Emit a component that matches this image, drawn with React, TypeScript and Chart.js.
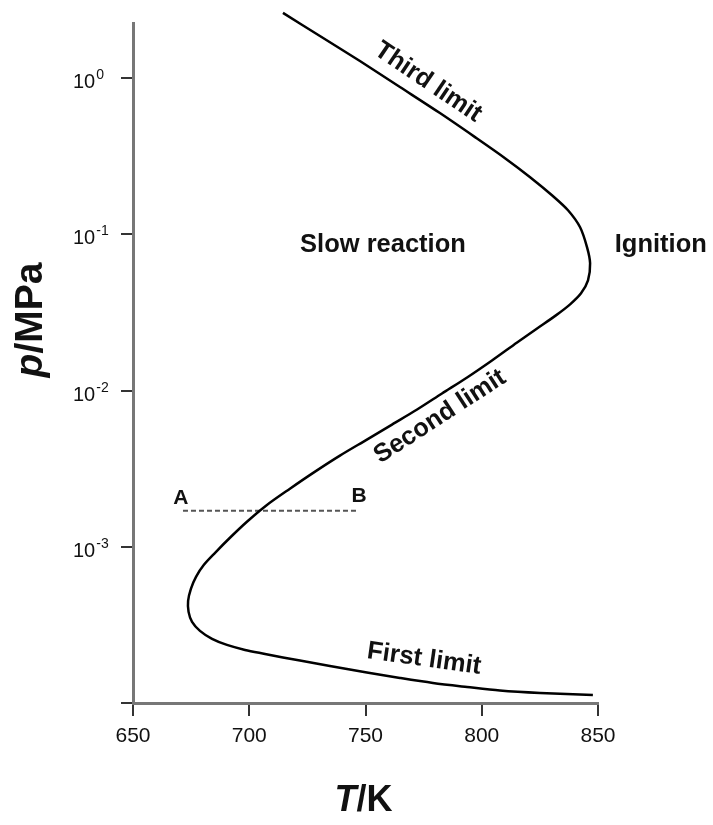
import { useEffect, useRef } from 'react';
import { Chart, registerables } from 'chart.js';

Chart.register(...registerables);

const FONT = "'Liberation Sans', Arial, Helvetica, sans-serif";

// Explosion-limit curve (T in K, p in MPa), traced from top to bottom
const temperatureK = [
  714.5, 730.4, 747.6, 764.8, 782.0, 797.1, 810.0, 820.8, 830.2, 837.1,
  842.3, 845.3, 846.6, 845.7,
  842.7, 838.0, 831.9, 823.8, 815.2, 804.4, 793.7, 782.9, 772.2, 761.4,
  750.6, 739.0, 728.3, 717.5, 707.2, 699.0, 691.7,
  685.3, 680.5, 677.1, 674.9, 673.7, 673.9, 675.4, 678.8, 684.0, 690.4,
  698.2, 706.8, 714.5, 721.8, 734.7, 750.6, 764.8, 779.0, 793.7, 807.8,
  825.1, 847.8,
];
const pressureMPa = [
  2.61, 1.858, 1.285, 0.876, 0.5966, 0.4187, 0.307, 0.232, 0.1778, 0.1425,
  0.1109, 0.0825, 0.0652, 0.0507,
  0.04187, 0.03559, 0.03026, 0.02496, 0.02031, 0.01557, 0.01212, 0.00957, 0.007554, 0.006054,
  0.004852, 0.003831, 0.003026, 0.002353, 0.001832, 0.001446, 0.001142,
  0.000915, 0.0007666, 0.0006422, 0.000538, 0.0004507, 0.0003831, 0.0003305, 0.0002894, 0.0002572, 0.0002353,
  0.0002186, 0.0002061, 0.0001957, 0.0001873, 0.0001727, 0.0001568, 0.0001446, 0.0001343, 0.0001266, 0.0001202,
  0.0001159, 0.0001125,
];

// Dashed isobar A–B
const pathAB_T = [671.5, 746.3];
const pathAB_p = [0.0017, 0.0017];

// Axes
const xTickValues = [650, 700, 750, 800, 850];
const yTickValues = [1e-4, 1e-3, 1e-2, 1e-1, 1];
const yTickLabelExponents = ['-3', '-2', '-1', '0'];
const yLabelValues = [1e-3, 1e-2, 1e-1, 1];
const xMin = 650;
const xMax = 850;
const yMin = 1e-4;
const yMax = 2.25;

// Region / curve labels
const labelTexts = ['Third limit', 'Slow reaction', 'Ignition', 'Second limit', 'First limit', 'A', 'B'];
const labelT = [776.9, 757.5, 877.0, 782.0, 775.2, 670.6, 747.2];
const labelP = [0.94, 0.085, 0.085, 0.0068, 0.000191, 0.00206, 0.00212];
const labelAngle = [34, 0, 0, -33, 8, 0, 0];
const labelSize = [25.5, 25.5, 25.5, 25.5, 25.5, 21, 21];

type Part = { text: string; italic: boolean };

function drawRich(ctx: CanvasRenderingContext2D, parts: Part[], size: number, cx: number, cy: number, angle: number) {
  ctx.save();
  ctx.translate(cx, cy);
  ctx.rotate((angle * Math.PI) / 180);
  ctx.textBaseline = 'middle';
  ctx.textAlign = 'left';
  ctx.fillStyle = '#111';
  const widths = parts.map((p) => {
    ctx.font = `${p.italic ? 'italic ' : ''}bold ${size}px ${FONT}`;
    return ctx.measureText(p.text).width;
  });
  const total = widths.reduce((a, b) => a + b, 0);
  let xx = -total / 2;
  parts.forEach((p, i) => {
    ctx.font = `${p.italic ? 'italic ' : ''}bold ${size}px ${FONT}`;
    ctx.fillText(p.text, xx, 0);
    xx += widths[i];
  });
  ctx.restore();
}

const textPlugin = {
  id: 'textPlugin',
  afterDraw(chart: any) {
    const { ctx, scales, chartArea } = chart;
    const xs = scales.x;
    const ys = scales.y;
    // y tick labels with superscript exponents
    ctx.save();
    ctx.fillStyle = '#111';
    ctx.textAlign = 'left';
    ctx.textBaseline = 'alphabetic';
    yLabelValues.forEach((v, i) => {
      const py = ys.getPixelForValue(v);
      const x0 = chartArea.left - 60;
      ctx.font = `20px ${FONT}`;
      ctx.fillText('10', x0, py + 10);
      const w = ctx.measureText('10').width;
      ctx.font = `14px ${FONT}`;
      ctx.fillText(yTickLabelExponents[i], x0 + w + 1, py + 1);
    });
    ctx.restore();

    // annotations
    labelTexts.forEach((t, i) => {
      const px = xs.getPixelForValue(labelT[i]);
      const py = ys.getPixelForValue(labelP[i]);
      drawRich(ctx, [{ text: t, italic: false }], labelSize[i], px, py, labelAngle[i]);
    });

    // axis titles
    drawRich(ctx, [{ text: 'T', italic: true }, { text: '/K', italic: false }], 36, (chartArea.left + chartArea.right) / 2 - 2, 801, 0);
    drawRich(ctx, [{ text: 'p', italic: true }, { text: '/MPa', italic: false }], 39, 31, 320, -90);
  },
};

export default function App() {
  const canvasRef = useRef<HTMLCanvasElement | null>(null);

  useEffect(() => {
    if (!canvasRef.current) return;
    const curve = temperatureK.map((t, i) => ({ x: t, y: pressureMPa[i] }));
    const ab = pathAB_T.map((t, i) => ({ x: t, y: pathAB_p[i] }));
    const chart = new Chart(canvasRef.current, {
      type: 'scatter',
      data: {
        datasets: [
          {
            data: curve,
            showLine: true,
            borderColor: '#000',
            borderWidth: 2.5,
            pointRadius: 0,
            tension: 0.3,
            clip: false as any,
          },
          {
            data: ab,
            showLine: true,
            borderColor: '#555',
            borderWidth: 2,
            borderDash: [5, 3],
            pointRadius: 0,
          },
        ],
      },
      options: {
        animation: false,
        responsive: true,
        maintainAspectRatio: false,
        events: [],
        layout: { padding: { left: 0, right: 115, top: 23, bottom: 0 } },
        plugins: { legend: { display: false }, tooltip: { enabled: false } },
        scales: {
          x: {
            type: 'linear',
            position: 'bottom',
            min: xMin,
            max: xMax,
            afterBuildTicks: (s: any) => {
              s.ticks = xTickValues.map((v) => ({ value: v }));
            },
            afterFit: (s: any) => {
              s.height = 122;
            },
            grid: { drawOnChartArea: false, drawTicks: true, tickLength: 13, color: '#333', lineWidth: 2 },
            border: { display: true, color: '#777', width: 3 },
            ticks: {
              autoSkip: false,
              maxRotation: 0,
              padding: 8,
              color: '#111',
              font: { size: 21, family: FONT },
              callback: (v: any) => String(v),
            },
          },
          y: {
            type: 'logarithmic',
            position: 'left',
            min: yMin,
            max: yMax,
            afterBuildTicks: (s: any) => {
              s.ticks = yTickValues.map((v) => ({ value: v }));
            },
            afterFit: (s: any) => {
              s.width = 133;
            },
            grid: { drawOnChartArea: false, drawTicks: true, tickLength: 12, color: '#333', lineWidth: 2 },
            border: { display: true, color: '#777', width: 3 },
            ticks: { display: false },
          },
        },
      },
      plugins: [textPlugin],
    } as any);
    return () => chart.destroy();
  }, []);

  return (
    <div style={{ position: 'absolute', left: 0, top: 0, width: 713, height: 825, background: '#fff' }}>
      <canvas ref={canvasRef} />
    </div>
  );
}
